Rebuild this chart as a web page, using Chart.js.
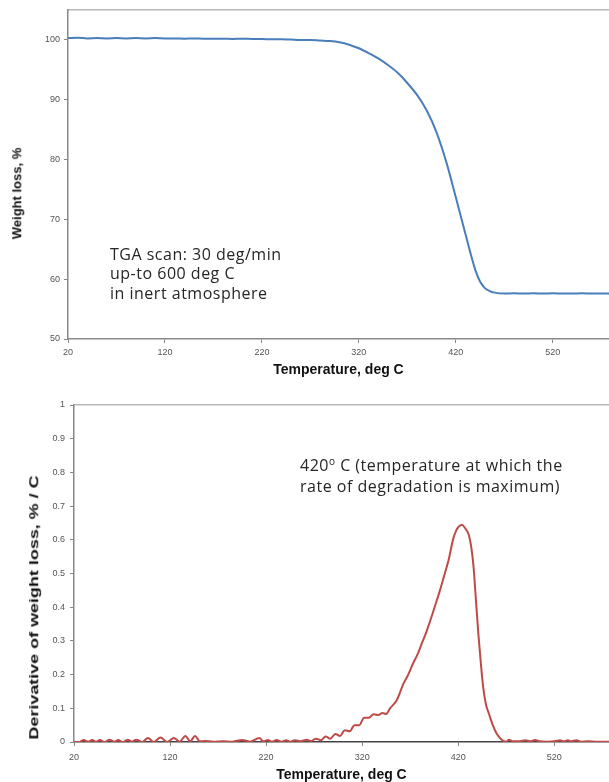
<!DOCTYPE html>
<html>
<head>
<meta charset="utf-8">
<script src="https://cdn.jsdelivr.net/npm/chart.js@4.4.1/dist/chart.umd.min.js"></script>
<style>
  body { margin: 0; background: #fff; width: 609px; height: 782px; overflow: hidden; position: relative; }
  .box { position: absolute; left: 0; }
  .note { position: absolute; font-family: "Open Sans", sans-serif; font-size: 16px; line-height: 19.3px; letter-spacing: 0.5px; color: #262626; white-space: nowrap; }
  .ytitle { position: absolute; font-family: "Liberation Sans", Arial, sans-serif; font-weight: bold; font-size: 13px; color: #111; white-space: nowrap; transform-origin: center center; }
</style>
</head>
<body>
<div class="box" style="top:0"><canvas id="tgaChart" width="609" height="385"></canvas></div>
<div class="box" style="top:385px"><canvas id="dtgChart" width="609" height="397"></canvas></div>

<div class="ytitle" id="yt1">Weight loss, %</div>
<div class="ytitle" id="yt2">Derivative of weight loss, % / C</div>

<div class="note" style="left:110px; top:245px">TGA scan: 30 deg/min<br>up-to 600 deg C<br>in inert atmosphere</div>
<div class="note" style="left:300px; top:456px">420<span style="font-size:10px; position:relative; top:-6px">o</span> C (temperature at which the<br>rate of degradation is maximum)</div>

<script>
// TGA curve (weight %, vs temperature)
const tgaTemp = [20, 30, 40, 50, 60, 70, 80, 90, 100, 110, 120, 130, 140, 150, 160, 170, 180, 190, 200,
  210, 220, 230, 240, 250, 260, 270, 280, 290, 300, 310, 320, 330, 340, 350, 360, 370, 380, 390, 400,
  410, 420, 430, 440, 445, 450, 455, 460, 470, 480, 490, 500, 510, 520, 530, 540, 550, 560, 570, 578];
const tgaWeight = [100.3, 100.35, 100.25, 100.3, 100.25, 100.3, 100.25, 100.3, 100.25, 100.3, 100.25, 100.25, 100.2, 100.25, 100.2, 100.2, 100.2, 100.15, 100.2,
  100.15, 100.15, 100.1, 100.1, 100.05, 100.0, 100.0, 99.9, 99.8, 99.6, 99.2, 98.6, 97.8, 96.9, 95.8, 94.5, 92.8, 90.8, 88.2, 84.6,
  79.7, 73.7, 67.5, 61.6, 59.6, 58.5, 58.0, 57.75, 57.6, 57.65, 57.6, 57.65, 57.6, 57.65, 57.6, 57.6, 57.65, 57.6, 57.6, 57.6];

// DTG curve (derivative of weight loss, % / C)
const dtgTemp = [20, 25, 30, 35, 39, 43, 47, 52, 57, 62, 66, 71, 76, 80, 85, 91, 97, 103, 110, 117, 124, 130,
  136, 141, 146, 151, 156, 165, 175, 185, 195, 203, 213, 217, 222, 226, 231, 236, 241, 245, 250, 256, 262, 267,
  272, 277, 282, 287, 292, 297, 302, 307, 312, 317, 322, 327, 332, 337, 341, 345, 349, 356, 363, 368, 373, 378,
  382, 386, 391, 396, 401, 405, 410, 415, 418, 421, 424, 427, 431, 434, 436, 438, 441, 444, 446, 449, 452, 456,
  460, 464, 467, 470, 473, 477, 484, 490, 495, 500, 505, 512, 520, 526, 530, 534, 538, 543, 548, 555, 565, 577];
const dtgDeriv = [0, 0, 0.006, 0.001, 0.006, 0.001, 0.006, 0, 0.007, 0.001, 0.006, 0, 0.007, 0.001, 0.007, 0, 0.012, 0, 0.013, 0, 0.012, 0.001,
  0.018, 0.002, 0.018, 0.002, 0.003, 0.001, 0.002, 0.001, 0.006, 0.001, 0.012, 0.002, 0.006, 0.001, 0.006, 0.001, 0.005, 0.001, 0.005, 0.002, 0.007, 0.003,
  0.01, 0.005, 0.016, 0.01, 0.024, 0.018, 0.035, 0.032, 0.05, 0.05, 0.072, 0.072, 0.082, 0.08, 0.086, 0.083, 0.1, 0.124, 0.173, 0.2, 0.233, 0.262,
  0.292, 0.32, 0.361, 0.405, 0.45, 0.49, 0.54, 0.605, 0.628, 0.64, 0.645, 0.635, 0.615, 0.57, 0.519, 0.44, 0.32, 0.22, 0.163, 0.11, 0.084, 0.05,
  0.025, 0.01, 0.003, 0.001, 0.007, 0.002, 0.002, 0.005, 0.002, 0.006, 0.002, 0.001, 0.002, 0.005, 0.002, 0.005, 0.002, 0.005, 0.001, 0.002, 0.001, 0.001];

const tempTicks = [20, 120, 220, 320, 420, 520];
const weightTicks = [50, 60, 70, 80, 90, 100];
const derivTicks = [0, 0.1, 0.2, 0.3, 0.4, 0.5, 0.6, 0.7, 0.8, 0.9, 1];

const tickFont = { family: '"Liberation Sans", Arial, sans-serif', size: 9 };
const titleFont = { family: '"Liberation Sans", Arial, sans-serif', size: 14, weight: 'bold' };

function toPoints(xs, ys) {
  return xs.map((x, i) => ({ x: x, y: ys[i] }));
}

function useTicks(values) {
  return scale => { scale.ticks = values.map(v => ({ value: v })); };
}

function makeChart(id, opts) {
  return new Chart(document.getElementById(id), {
    type: 'scatter',
    data: {
      datasets: [{
        data: toPoints(opts.xs, opts.ys),
        showLine: true,
        borderColor: opts.color,
        borderWidth: 2,
        pointRadius: 0,
        cubicInterpolationMode: 'monotone'
      }]
    },
    options: {
      responsive: false,
      animation: false,
      layout: { padding: { top: opts.padTop, right: 0, left: 0, bottom: 0 } },
      plugins: { legend: { display: false }, tooltip: { enabled: false } },
      scales: {
        x: {
          type: 'linear',
          min: 20,
          max: opts.xMax,
          afterBuildTicks: useTicks(tempTicks),
          afterFit: s => { s.height = opts.xHeight; },
          grid: { drawOnChartArea: false, tickLength: 4, color: '#888' },
          border: { color: opts.xAxisColor, width: 1.5 },
          ticks: { font: tickFont, color: '#555', padding: opts.xPad, maxRotation: 0 },
          title: { display: true, text: 'Temperature, deg C', font: titleFont, color: '#111', padding: { top: 0, bottom: opts.titlePad } }
        },
        xTop: {
          type: 'linear',
          position: 'top',
          min: 20,
          max: opts.xMax,
          grid: { drawOnChartArea: false, drawTicks: false },
          border: { color: '#b8b8b8', width: 1.5 },
          ticks: { display: false }
        },
        y: {
          type: 'linear',
          min: opts.yMin,
          max: opts.yMax,
          afterBuildTicks: useTicks(opts.yTicks),
          afterFit: s => { s.width = opts.yWidth; },
          grid: { drawOnChartArea: false, tickLength: 4, color: '#888' },
          border: { color: '#888', width: 1.5 },
          ticks: { font: tickFont, color: '#555', padding: opts.yPad, callback: v => String(v) }
        }
      }
    }
  });
}

makeChart('tgaChart', {
  xs: tgaTemp, ys: tgaWeight, color: '#4a7ebb',
  padTop: 10, xMax: 578, xHeight: 46, xPad: 4, titlePad: 6, xAxisColor: '#8a8a8a',
  yMin: 50, yMax: 105, yTicks: weightTicks, yWidth: 68, yPad: 4
});

makeChart('dtgChart', {
  xs: dtgTemp, ys: dtgDeriv, color: '#be4b48',
  padTop: 20, xMax: 577, xHeight: 40, xPad: 6, titlePad: -2, xAxisColor: '#444',
  yMin: 0, yMax: 1, yTicks: derivTicks, yWidth: 74, yPad: 5
});

// rotated y-axis titles, placed like the original (not centred on the axis)
function placeTitle(id, cx, cy, stretch) {
  const el = document.getElementById(id);
  const w = el.offsetWidth, h = el.offsetHeight;
  el.style.left = (cx - w / 2) + 'px';
  el.style.top = (cy - h / 2) + 'px';
  el.style.transform = 'rotate(-90deg) scaleX(' + stretch + ')';
}
placeTitle('yt1', 17, 193, 1);
placeTitle('yt2', 33, 607, 1.38);
</script>
</body>
</html>
